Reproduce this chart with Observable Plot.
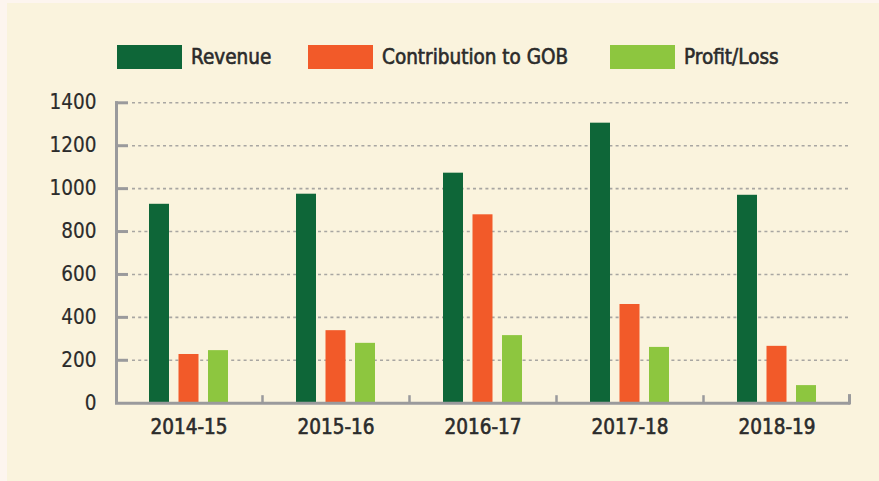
<!DOCTYPE html>
<html>
<head>
<meta charset="utf-8">
<script src="https://cdn.jsdelivr.net/npm/d3@7"></script>
<script src="https://cdn.jsdelivr.net/npm/@observablehq/plot@0.6"></script>
<style>
  html, body { margin: 0; padding: 0; background: #fdf5ef; }
  #wrap { position: absolute; left: 7px; top: 3px; width: 872px; height: 478px; background: #faf3dd; overflow: hidden; }
  #legend { position: absolute; left: 0; top: 0; width: 872px; height: 90px; font-family: "DejaVu Sans Condensed", "DejaVu Sans", sans-serif; font-weight: normal; font-size: 20.5px; color: #2b2b2b; -webkit-text-stroke: 0.6px #2b2b2b; }
  .item { position: absolute; top: 42px; height: 24px; display: flex; align-items: center; white-space: nowrap; }
  .sw { width: 65px; height: 24px; margin-right: 9px; }
  #chart { position: absolute; left: 0; top: 0; }
  g[aria-label="x-axis tick label"] text { stroke: #2b2b2b; stroke-width: 0.6px; }
  g[aria-label="y-axis tick label"] text { stroke: #2b2b2b; stroke-width: 0.2px; }
</style>
</head>
<body>
<div id="wrap">
  <div id="chart"></div>
  <div id="legend"></div>
</div>
<script>
const years = ["2014-15", "2015-16", "2016-17", "2017-18", "2018-19"];
const revenue = [927, 974, 1072, 1305, 969];
const contribution = [227, 338, 878, 460, 265];
const profit = [245, 279, 315, 260, 82];
const seriesNames = ["Revenue", "Contribution to GOB", "Profit/Loss"];
const seriesColors = ["#0e6638", "#f25a29", "#8dc63f"];
const yTicks = [0, 200, 400, 600, 800, 1000, 1200, 1400];
const legendX = [110, 301, 603];

const font = '"DejaVu Sans Condensed", "DejaVu Sans", sans-serif';
const axisColor = "#9a9a9c";

const rows = years.map((y, i) => ({year: y, revenue: revenue[i], contribution: contribution[i], profit: profit[i]}));
const keys = ["revenue", "contribution", "profit"];
const offsets = [-29.5, 0, 29.5];

const W = 872, H = 478;
const bandW = (W - 108 - 29) / years.length;
const barW = 20;
const inset = (bandW - barW) / 2;

const plot = Plot.plot({
  width: W,
  height: H,
  marginLeft: 108,
  marginRight: 29,
  marginTop: 99.3,
  marginBottom: 78.3,
  style: {background: "transparent", fontFamily: font, fontSize: "20.5px", color: "#2b2b2b", overflow: "visible"},
  x: {domain: years, padding: 0, label: null},
  y: {domain: [0, 1400], label: null},
  marks: [
    Plot.ruleY(yTicks.filter(d => d > 0), {y: d => d, stroke: "#a8a6a2", strokeWidth: 1.6, strokeDasharray: "3,3.2", insetLeft: 17}),
    ...keys.map((k, i) => Plot.barY(rows, {x: "year", y: k, fill: seriesColors[i], dx: offsets[i], insetLeft: inset, insetRight: inset})),
    // y-axis line
    Plot.ruleX([years[0]], {x: d => d, y1: 0, y2: 1405, dx: -bandW / 2 + 1, stroke: axisColor, strokeWidth: 3}),
    // y ticks
    Plot.ruleY(yTicks.filter(d => d > 0), {y: d => d, stroke: axisColor, strokeWidth: 3, insetRight: W - 108 - 29 - 13}),
    // x-axis line
    Plot.ruleY([0], {stroke: axisColor, strokeWidth: 3}),
    // separators
    Plot.ruleX(years.slice(0, -1), {x: d => d, y1: 0, y2: 35, dx: bandW / 2, stroke: axisColor, strokeWidth: 2.5}),
    Plot.ruleX([years[years.length - 1]], {x: d => d, y1: -8, y2: 40, dx: bandW / 2 - 1, stroke: axisColor, strokeWidth: 3}),
    Plot.axisY({ticks: yTicks, tickSize: 0, tickPadding: 19, tickFormat: d => String(d), fontSize: 20.5, fill: "#2b2b2b"}),
    Plot.axisX({tickSize: 0, tickPadding: 16, fontSize: 20.5, fill: "#2b2b2b"})
  ]
});
document.getElementById("chart").appendChild(plot);

const legend = document.getElementById("legend");
seriesNames.forEach((name, i) => {
  const item = document.createElement("div");
  item.className = "item";
  item.style.left = legendX[i] + "px";
  const sw = document.createElement("div");
  sw.className = "sw";
  sw.style.background = seriesColors[i];
  const t = document.createElement("span");
  t.textContent = name;
  item.appendChild(sw);
  item.appendChild(t);
  legend.appendChild(item);
});
</script>
</body>
</html>
